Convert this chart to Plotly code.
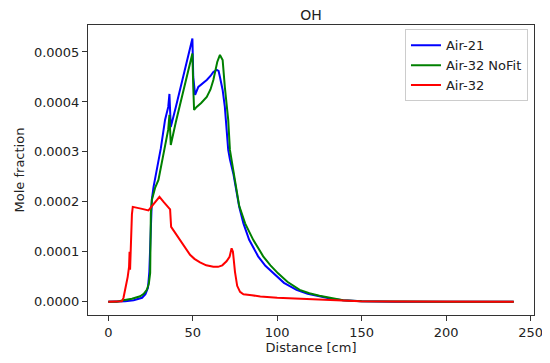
import plotly.graph_objects as go

# Air-21 (blue)
air21_x = [0, 5, 10, 15, 20, 22, 23.5, 24.3, 24.8, 25.3, 25.8, 26.8, 28, 31.1, 33.6, 35.5, 36.2, 36.6, 37, 40, 45, 49.8,
           50.3, 51.4, 53.3, 55.5, 58.3, 60.5, 62.2, 64.2, 65.3, 66.1, 67.7, 69, 70, 71, 72, 74, 77.5, 80, 83.4, 88.7,
           93, 97.6, 104, 111.4, 118, 125, 132, 139, 150, 170, 200, 240]
air21_y = [0, 0, 0.000001, 0.000003, 0.000008, 0.000015, 0.000028, 0.00006, 0.00011, 0.00016, 0.000205, 0.00023, 0.00025,
           0.000307, 0.000364, 0.00039, 0.000416, 0.00038, 0.00035, 0.00039, 0.000458, 0.000527,
           0.00045, 0.000414, 0.00043, 0.000436, 0.000444, 0.000452, 0.00046, 0.000464, 0.000462, 0.00045, 0.000424,
           0.00039, 0.00035, 0.000304, 0.000285, 0.000257, 0.00019, 0.000157, 0.000124, 0.000091,
           0.000072, 0.000057, 0.000038, 0.000024, 0.000016, 0.000011, 0.000006, 0.000003, 0.000001, 0.0000003, 0, 0]

# Air-32 NoFit (green)
nofit_x = [0, 5, 9, 14, 18.9, 21, 22.8, 24, 24.8, 25.2, 25.8, 27.7, 29.7, 31.7, 33.6, 35.5, 36.2, 36.6, 37, 40, 45, 49.8,
           50.3, 50.8, 52.3, 55, 58.3, 60.5, 62.2, 64.5, 66.1, 67.7, 69, 71, 72, 74, 77.5, 81, 85.8, 91.7, 96,
           100.5, 106, 113.3, 119, 125, 132, 139, 150, 170, 200, 240]
nofit_y = [0, 0, 0.000003, 0.000006, 0.000011, 0.000016, 0.000024, 0.000036, 0.000058, 0.000177, 0.000204, 0.000228, 0.000244,
           0.000277, 0.000315, 0.000345, 0.000374, 0.00034, 0.000314, 0.00036, 0.000432, 0.000497,
           0.00043, 0.000384, 0.00039, 0.000398, 0.00041, 0.000425, 0.000444, 0.00048, 0.000494, 0.000484, 0.00043,
           0.000364, 0.000304, 0.00026, 0.000192, 0.000157, 0.000124, 0.000091, 0.000073,
           0.000057, 0.00004, 0.000024, 0.000017, 0.000012, 0.000007, 0.000003, 0.000001, 0.0000003, 0, 0]

# Air-32 (red)
air32_x = [0, 4, 8, 9, 10, 11.5, 12.3, 12.6, 12.9, 13.4, 14, 14.5, 15.5, 20, 23.8, 27, 30.3, 33, 36.2, 36.6, 37.2, 40, 42.5,
           45.5, 48.4, 51, 54.3, 58, 62.2, 65, 67.5, 70, 71.8, 73, 73.8, 75, 76.3, 78, 80, 85, 90, 100, 110, 119,
           130, 149, 170, 200, 240]
air32_y = [0, 0, 0.000001, 0.000008, 0.000024, 0.00005, 0.00007, 0.0001, 0.000064, 0.00012, 0.000175, 0.00019, 0.000189,
           0.000186, 0.000183, 0.000197, 0.00021, 0.000199, 0.000188, 0.000185, 0.00015, 0.000136, 0.000124,
           0.000108, 0.000094, 0.000086, 0.000079, 0.000073, 0.00007, 0.00007, 0.000073, 0.000081, 0.00009, 0.000107,
           0.0001, 0.00006, 0.000032, 0.00002, 0.000015, 0.000013, 0.0000107, 0.000008, 0.0000065, 0.0000053,
           0.000003, 0.000001, 0.0000005, 0, 0]

x_ticks = [0, 50, 100, 150, 200, 250]
y_ticks = [0, 0.0001, 0.0002, 0.0003, 0.0004, 0.0005]

FONT = "DejaVu Sans"
TXT = "#222"
W, H = 542, 355  # page body has an 8px margin inside the 550x363 window

fig = go.Figure()
fig.add_trace(go.Scatter(x=air21_x, y=air21_y, mode="lines", name="Air-21",
                         line=dict(color="#0000ff", width=2)))
fig.add_trace(go.Scatter(x=nofit_x, y=nofit_y, mode="lines", name="Air-32 NoFit",
                         line=dict(color="#008000", width=2)))
fig.add_trace(go.Scatter(x=air32_x, y=air32_y, mode="lines", name="Air-32",
                         line=dict(color="#ff0000", width=2)))

fig.update_layout(
    width=W, height=H,
    margin=dict(l=80, r=16, t=17, b=48, autoexpand=False),
    paper_bgcolor="white", plot_bgcolor="white",
    font=dict(family=FONT, size=13, color=TXT),
    title=dict(text="OH", x=303 / W, xanchor="center", y=1 - 2 / H, yanchor="top", pad=dict(t=0, b=0),
               yref="container", font=dict(family=FONT, size=14, color=TXT)),
    showlegend=True,
    legend=dict(x=0.9865, xanchor="right", y=0.985, yanchor="top",
                bordercolor="#cccccc", borderwidth=1, bgcolor="rgba(255,255,255,0.8)",
                font=dict(family=FONT, size=13, color=TXT), tracegroupgap=0, itemwidth=30),
)
fig.update_xaxes(range=[-12, 252], tickvals=x_ticks, showgrid=False, zeroline=False, automargin=False,
                 showline=True, linecolor="#333", linewidth=1, mirror=True,
                 ticks="outside", ticklen=5, tickcolor="#333",
                 tickfont=dict(family=FONT, size=13, color=TXT),
                 title=dict(text="Distance [cm]", standoff=2, font=dict(family=FONT, size=13, color=TXT)))
fig.update_yaxes(range=[-0.0000264, 0.000554], tickvals=y_ticks, tickformat=".4f", showgrid=False, zeroline=False,
                 automargin=False,
                 showline=True, linecolor="#333", linewidth=1, mirror=True,
                 ticks="outside", ticklen=5, tickcolor="#333",
                 tickfont=dict(family=FONT, size=13, color=TXT),
                 title=dict(text="Mole fraction", standoff=6, font=dict(family=FONT, size=13, color=TXT)))

fig.write_html("out.html")
